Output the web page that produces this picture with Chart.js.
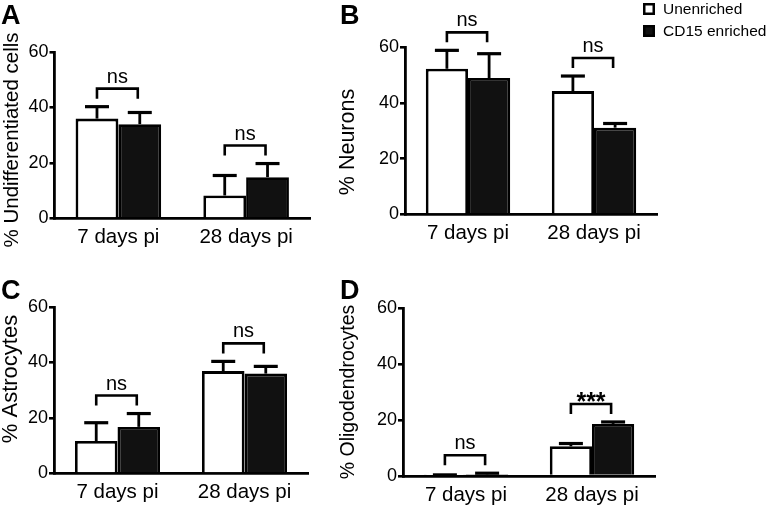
<!DOCTYPE html>
<html><head><meta charset="utf-8">
<script src="https://cdn.jsdelivr.net/npm/chart.js@4.4.0/dist/chart.umd.min.js"></script>
<style>
html,body{margin:0;padding:0;background:#fff;}
#wrap{position:relative;width:771px;height:507px;background:#fff;}
canvas{position:absolute;left:0;top:0;}
</style></head><body>
<div id="wrap">
<canvas id="cA" width="771" height="507"></canvas>
<canvas id="cB" width="771" height="507"></canvas>
<canvas id="cC" width="771" height="507"></canvas>
<canvas id="cD" width="771" height="507"></canvas>
</div>
<script>
// ---- data ----
const categories = ['7 days pi', '28 days pi'];
const seriesNames = ['Unenriched', 'CD15 enriched'];
const yTicks = [0, 20, 40, 60];

const undiffUnenriched = [36.0, 8.3];
const undiffUnenrichedErr = [4.3, 7.2];
const undiffCD15 = [34.0, 14.9];
const undiffCD15Err = [4.2, 4.9];
const undiffSig = ['ns', 'ns'];

const neuronUnenriched = [52.2, 44.2];
const neuronUnenrichedErr = [6.6, 5.4];
const neuronCD15 = [48.9, 31.1];
const neuronCD15Err = [8.7, 1.5];
const neuronSig = ['ns', 'ns'];

const astroUnenriched = [11.7, 36.9];
const astroUnenrichedErr = [6.6, 3.5];
const astroCD15 = [16.8, 36.0];
const astroCD15Err = [4.8, 2.6];
const astroSig = ['ns', 'ns'];

const oligoUnenriched = [0.2, 10.6];
const oligoUnenrichedErr = [0.2, 1.0];
const oligoCD15 = [0.6, 18.6];
const oligoCD15Err = [0.4, 0.7];
const oligoSig = ['ns', '***'];

// ---- layout ----
const W = 771, H = 507;
const FONT = "'Liberation Sans', Arial, Helvetica, sans-serif";
const yW = 40, xH = 30;

const panels = [
  {id:'cA', letter:'A', title:'% Undifferentiated cells', titleSize:20.5, u:undiffUnenriched, uErr:undiffUnenrichedErr, c:undiffCD15, cErr:undiffCD15Err, sig:undiffSig,
   area:{left:54.5, top:52, right:310, bottom:218.5}, letterPos:[1, 24], titlePos:[12.5, 140], legend:false},
  {id:'cB', letter:'B', title:'% Neurons', titleSize:21.5, u:neuronUnenriched, uErr:neuronUnenrichedErr, c:neuronCD15, cErr:neuronCD15Err, sig:neuronSig,
   area:{left:405, top:47, right:657, bottom:214.5}, letterPos:[340, 24], titlePos:[348.5, 142], legend:true},
  {id:'cC', letter:'C', title:'% Astrocytes', titleSize:22, u:astroUnenriched, uErr:astroUnenrichedErr, c:astroCD15, cErr:astroCD15Err, sig:astroSig,
   area:{left:54, top:307, right:308, bottom:473.5}, letterPos:[1, 299], titlePos:[11, 379], legend:false},
  {id:'cD', letter:'D', title:'% Oligodendrocytes', titleSize:19.5, u:oligoUnenriched, uErr:oligoUnenrichedErr, c:oligoCD15, cErr:oligoCD15Err, sig:oligoSig,
   area:{left:403, top:308, right:655, bottom:476}, letterPos:[340, 299], titlePos:[348.5, 392], legend:false}
];

const decorPlugin = {
  id: 'panelDecor',
  afterDatasetsDraw(chart, args, opts) {
    const ctx = chart.ctx, ys = chart.scales.y;
    const m0 = chart.getDatasetMeta(0), m1 = chart.getDatasetMeta(1);
    ctx.save();
    ctx.strokeStyle = '#000'; ctx.fillStyle = '#000'; ctx.lineCap = 'butt';
    const tops = [];
    chart.data.datasets.forEach((ds, di) => {
      const meta = chart.getDatasetMeta(di);
      meta.data.forEach((bar, j) => {
        const v = ds.data[j], e = ds.err[j];
        const yTop = ys.getPixelForValue(v + e);
        ctx.lineWidth = 2.8;
        ctx.beginPath(); ctx.moveTo(bar.x, bar.y); ctx.lineTo(bar.x, yTop); ctx.stroke();
        ctx.lineWidth = 3.2;
        ctx.beginPath(); ctx.moveTo(bar.x - 12, yTop); ctx.lineTo(bar.x + 12, yTop); ctx.stroke();
        tops[j] = Math.min(tops[j] === undefined ? Infinity : tops[j], yTop, bar.y);
      });
    });
    // significance brackets
    ctx.lineWidth = 2.6;
    ctx.textAlign = 'center';
    opts.sig.forEach((label, j) => {
      const x0 = m0.data[j].x, x1 = m1.data[j].x - 2;
      const yEnd = tops[j] - 8, yTop = yEnd - 10;
      ctx.beginPath();
      ctx.moveTo(x0, yEnd); ctx.lineTo(x0, yTop); ctx.lineTo(x1, yTop); ctx.lineTo(x1, yEnd);
      ctx.stroke();
      ctx.textBaseline = 'alphabetic';
      const isStar = label.indexOf('*') >= 0;
      ctx.font = isStar ? 'bold 25px ' + FONT : '20px ' + FONT;
      ctx.fillText(label, (x0 + x1) / 2, isStar ? yTop + 6 : yTop - 6);
    });
    ctx.restore();
  },
  afterDraw(chart, args, opts) {
    const ctx = chart.ctx;
    ctx.save();
    ctx.fillStyle = '#000';
    // panel letter
    ctx.font = 'bold 27px ' + FONT;
    ctx.textAlign = 'left'; ctx.textBaseline = 'alphabetic';
    ctx.fillText(opts.letter, opts.letterPos[0], opts.letterPos[1]);
    // y axis title
    ctx.save();
    ctx.translate(opts.titlePos[0], opts.titlePos[1]);
    ctx.rotate(-Math.PI / 2);
    ctx.font = opts.titleSize + 'px ' + FONT;
    ctx.textAlign = 'center'; ctx.textBaseline = 'middle';
    ctx.fillText(opts.title, 0, 0);
    ctx.restore();
    // legend
    if (opts.legend) {
      const lx = 643, ly = [3, 25], bs = 12;
      ctx.font = '15.5px ' + FONT;
      ctx.textBaseline = 'middle';
      chart.data.datasets.forEach((ds, i) => {
        ctx.fillStyle = ds.backgroundColor;
        ctx.fillRect(lx, ly[i], bs, bs);
        ctx.strokeStyle = '#000'; ctx.lineWidth = 2.5;
        ctx.strokeRect(lx + 1.25, ly[i] + 1.25, bs - 2.5, bs - 2.5);
        ctx.fillStyle = '#000';
        ctx.fillText(ds.label, lx + 20, ly[i] + bs / 2 + 0.5);
      });
    }
    ctx.restore();
  }
};

function makeChart(p) {
  new Chart(document.getElementById(p.id), {
    type: 'bar',
    data: {
      labels: categories,
      datasets: [
        {label: seriesNames[0], data: p.u, err: p.uErr, backgroundColor: '#ffffff', borderColor: '#000000', borderWidth: 2.8},
        {label: seriesNames[1], data: p.c, err: p.cErr, backgroundColor: '#111111', borderColor: '#000000', borderWidth: 2.8}
      ]
    },
    options: {
      responsive: false, animation: false, events: [], devicePixelRatio: 1,
      layout: {padding: {left: p.area.left - yW, top: p.area.top, right: W - p.area.right, bottom: H - p.area.bottom - xH}},
      datasets: {bar: {categoryPercentage: 0.67, barPercentage: 1}},
      scales: {
        x: {
          grid: {display: false, drawTicks: false},
          border: {display: true, color: '#000', width: 2.8},
          ticks: {color: '#000', font: {family: FONT, size: 20.5}, padding: 7, maxRotation: 0, autoSkip: false},
          afterFit(s) { s.height = xH; }
        },
        y: {
          min: 0, max: 60,
          afterBuildTicks(s) { s.ticks = yTicks.map(v => ({value: v})); },
          grid: {drawOnChartArea: false, drawTicks: true, tickLength: 5, color: '#000', lineWidth: 2.6},
          border: {display: true, color: '#000', width: 2.8},
          ticks: {color: '#000', font: {family: FONT, size: 18}, padding: 1},
          afterFit(s) { s.width = yW; }
        }
      },
      plugins: {
        legend: {display: false}, tooltip: {enabled: false},
        panelDecor: {sig: p.sig, letter: p.letter, letterPos: p.letterPos, title: p.title, titleSize: p.titleSize, titlePos: p.titlePos, legend: p.legend}
      }
    },
    plugins: [decorPlugin]
  });
}
panels.forEach(makeChart);
</script>
</body></html>
